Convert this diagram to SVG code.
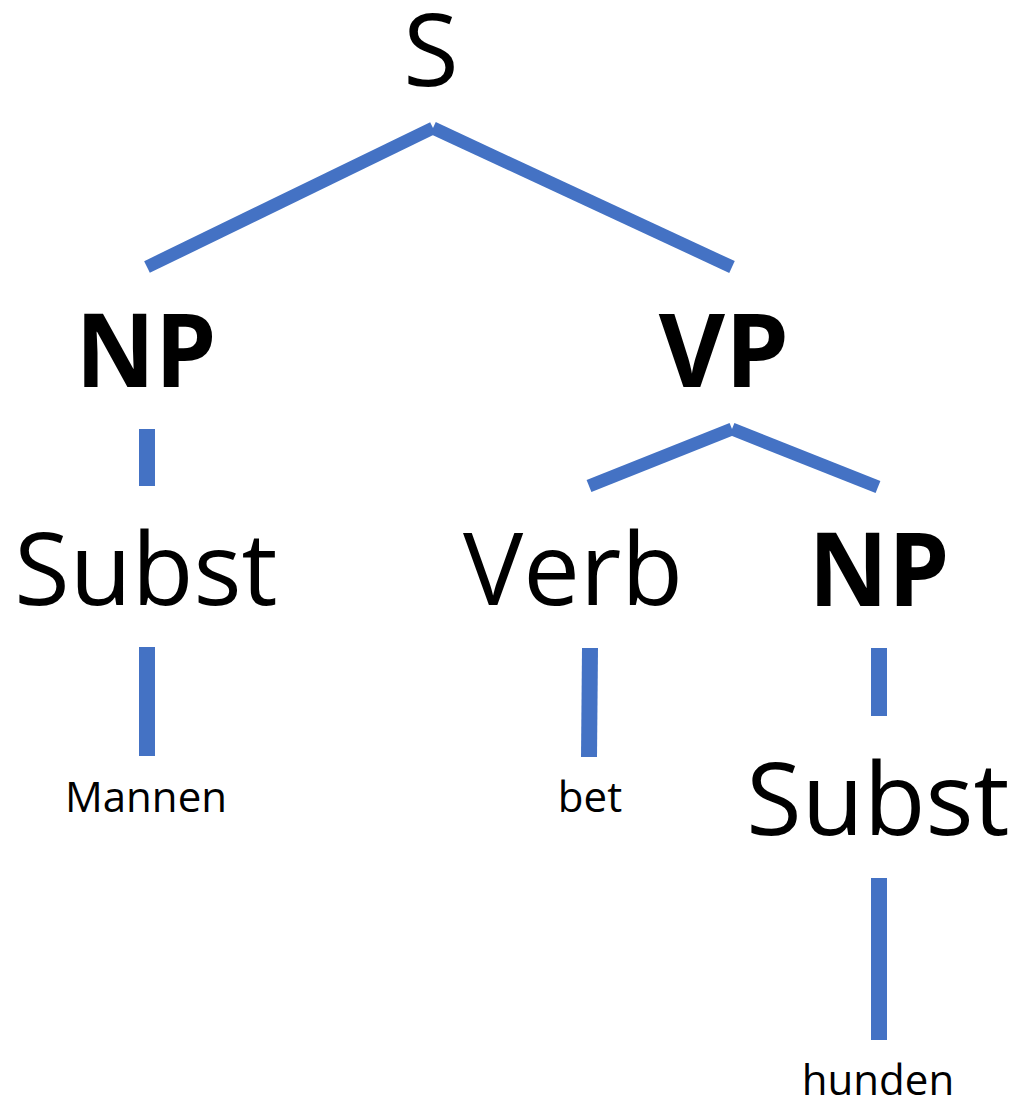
<svg xmlns="http://www.w3.org/2000/svg" width="1017" height="1102" viewBox="0 0 1017 1102">
<style>
.t{font-family:"Open Sans","Noto Sans","Liberation Sans",sans-serif;fill:#000;text-anchor:middle}
.big{font-size:101px}
.bold{font-size:102px;font-weight:700}
.word{font-size:42px}
.e{stroke:#4472C4;stroke-width:13;stroke-linecap:butt;fill:none}
.v{stroke-width:16}
</style>
<rect width="1017" height="1102" fill="#fff"/>
<g id="connectors">
<line class="e" x1="433" y1="128" x2="147" y2="267"/>
<line class="e" x1="433" y1="128" x2="732" y2="267"/>
<line class="e v" x1="147" y1="429" x2="147" y2="486"/>
<line class="e" x1="732" y1="429" x2="589" y2="486"/>
<line class="e" x1="732" y1="429" x2="878" y2="487"/>
<line class="e v" x1="147" y1="647" x2="147" y2="756"/>
<line class="e v" x1="590" y1="648" x2="589" y2="757"/>
<line class="e v" x1="879" y1="648" x2="879" y2="716"/>
<line class="e v" x1="879" y1="878" x2="879" y2="1040"/>
</g>
<g id="n-S"><text class="t big" x="431" y="86">S</text></g>
<g id="n-NP1"><text class="t bold" x="146" y="387" textLength="141" lengthAdjust="spacingAndGlyphs">NP</text></g>
<g id="n-VP"><text class="t bold" x="724" y="387">VP</text></g>
<g id="n-Subst1"><text class="t big" x="146" y="605">Subst</text></g>
<g id="n-Verb"><text class="t big" x="573" y="605">Verb</text></g>
<g id="n-NP2"><text class="t bold" x="879" y="606" textLength="141" lengthAdjust="spacingAndGlyphs">NP</text></g>
<g id="n-Subst2"><text class="t big" x="878" y="835">Subst</text></g>
<g id="n-Mannen"><text class="t word" x="146" y="812">Mannen</text></g>
<g id="n-bet"><text class="t word" x="590" y="812">bet</text></g>
<g id="n-hunden"><text class="t word" x="878" y="1095">hunden</text></g>
</svg>
